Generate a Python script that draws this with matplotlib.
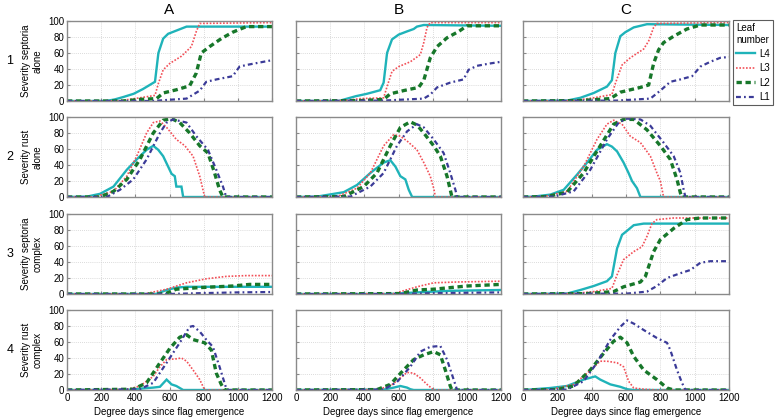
import matplotlib
matplotlib.use("Agg")
import matplotlib.pyplot as plt
from matplotlib.lines import Line2D

plt.rcParams['font.family'] = ['Liberation Sans', 'DejaVu Sans']

# column titles, row names, leaf labels
col_titles = ["A", "B", "C"]
row_numbers = ["1", "2", "3", "4"]
row_labels = ["Severity septoria\nalone", "Severity rust\nalone",
              "Severity septoria\ncomplex", "Severity rust\ncomplex"]
leaves = ["L4", "L3", "L2", "L1"]
x_ticks = [0, 200, 400, 600, 800, 1000, 1200]
y_ticks = [0, 20, 40, 60, 80, 100]

# ---- values: (degree days, severity) ----
# row 1 : septoria alone
sa_A_L4 = [(0, 0), (230, 0), (280, 2), (330, 5), (390, 9), (445, 15), (515, 24), (535, 60), (563, 78), (592, 84), (640, 88), (700, 93), (1200, 93)]
sa_A_L3 = [(0, 0), (300, 0), (330, 1), (427, 4), (515, 7), (535, 22), (563, 39), (602, 47), (670, 56), (728, 68), (757, 87), (777, 97), (1200, 98)]
sa_A_L2 = [(0, 0), (330, 0), (427, 2), (524, 3), (563, 10), (640, 14), (718, 19), (757, 35), (786, 60), (835, 68), (903, 78), (970, 86), (1050, 93), (1200, 93)]
sa_A_L1 = [(0, 0), (500, 0), (700, 3), (777, 13), (815, 24), (875, 27), (970, 31), (1010, 43), (1050, 45), (1200, 51)]

sa_B_L4 = [(0, 0), (250, 0), (300, 3), (350, 6), (415, 9), (493, 13.5), (513, 23), (533, 60), (562, 77), (601, 83), (650, 87), (689, 90), (708, 93), (748, 95), (1200, 94)]
sa_B_L3 = [(0, 0), (279, 0.5), (377, 3), (513, 4), (533, 18), (562, 37), (601, 43), (669, 49), (728, 58), (748, 73), (767, 92), (786, 98), (1200, 98)]
sa_B_L2 = [(0, 0), (377, 0.5), (513, 2), (552, 9), (630, 13), (718, 17), (748, 26), (786, 54), (826, 68), (884, 79), (953, 87), (1001, 94), (1200, 94)]
sa_B_L1 = [(0, 0), (513, 0.5), (748, 3), (786, 8), (826, 17), (903, 23), (981, 27), (1010, 39), (1060, 44), (1138, 47), (1200, 49)]

sa_C_L4 = [(0, 0), (256, 0.5), (334, 4), (412, 10), (489, 18), (518, 26), (538, 60), (567, 81), (596, 86), (645, 92), (684, 94), (722, 96), (1200, 95)]
sa_C_L3 = [(0, 0), (295, 0.5), (412, 4), (518, 8), (538, 22), (577, 45), (625, 54), (703, 65), (732, 75), (761, 92), (780, 97), (1200, 98)]
sa_C_L2 = [(0, 0), (334, 0.5), (509, 3), (567, 11), (684, 17), (732, 20), (761, 47), (790, 64), (819, 73), (878, 81), (955, 90), (1033, 95), (1200, 95)]
sa_C_L1 = [(0, 0), (548, 0.5), (742, 3), (800, 13), (858, 24), (917, 27), (985, 31), (1033, 43), (1091, 49), (1149, 54), (1200, 55)]

# row 2 : rust alone
ra_A_L4 = [(0, 0), (117, 0.5), (194, 4), (272, 13), (350, 34), (408, 47), (466, 59), (505, 64), (534, 59), (563, 51), (592, 38), (612, 29), (631, 26), (640, 13), (670, 13), (680, 0), (1200, 0)]
ra_A_L3 = [(0, 0), (155, 0), (272, 7), (350, 26), (408, 51), (466, 80), (505, 93), (544, 95), (583, 87), (640, 72), (690, 64), (738, 51), (777, 26), (806, 0), (1200, 0)]
ra_A_L2 = [(0, 0), (194, 0), (272, 7), (350, 22), (427, 47), (505, 80), (563, 96), (612, 98), (660, 93), (718, 80), (777, 64), (825, 55), (864, 30), (893, 9), (913, 0), (1200, 0)]
ra_A_L1 = [(0, 0), (233, 0), (310, 9), (388, 22), (466, 47), (544, 80), (583, 93), (621, 97), (700, 93), (757, 76), (825, 59), (874, 34), (913, 13), (932, 0), (1200, 0)]

ra_B_L4 = [(0, 0), (123, 0.5), (279, 6), (357, 15), (435, 30), (513, 43), (552, 46), (582, 38), (611, 26), (640, 22), (660, 9), (680, 0), (1200, 0)]
ra_B_L3 = [(0, 0), (240, 0.5), (357, 11), (435, 30), (513, 64), (572, 78), (611, 76), (650, 70), (708, 59), (748, 43), (786, 26), (806, 11), (816, 0), (1200, 0)]
ra_B_L2 = [(0, 0), (279, 0.5), (396, 13), (474, 30), (552, 64), (611, 87), (669, 94), (708, 90), (748, 80), (806, 64), (845, 51), (884, 26), (913, 0), (1200, 0)]
ra_B_L1 = [(0, 0), (318, 0.5), (435, 13), (513, 30), (591, 64), (650, 82), (708, 91), (748, 87), (806, 72), (864, 55), (903, 30), (933, 9), (943, 0), (1200, 0)]

ra_C_L4 = [(0, 0), (62, 0.5), (159, 3), (237, 9), (315, 28), (373, 43), (431, 59), (489, 66), (518, 63), (548, 57), (586, 43), (615, 30), (635, 20), (664, 11), (684, 0), (1200, 0)]
ra_C_L3 = [(0, 0), (120, 0.5), (256, 7), (353, 38), (431, 72), (489, 91), (528, 96), (577, 91), (625, 76), (684, 68), (742, 51), (780, 30), (800, 20), (819, 0), (1200, 0)]
ra_C_L2 = [(0, 0), (140, 0.5), (256, 6), (353, 30), (450, 64), (528, 91), (586, 97), (645, 97), (722, 84), (800, 64), (858, 47), (897, 22), (917, 5), (926, 0), (1200, 0)]
ra_C_L1 = [(0, 0), (179, 0.5), (295, 7), (392, 34), (489, 72), (557, 93), (606, 98), (684, 97), (742, 89), (819, 68), (878, 51), (917, 30), (936, 9), (946, 0), (1200, 0)]

# row 3 : septoria in complex
sc_A_L4 = [(0, 0), (520, 0), (583, 5), (640, 8), (700, 9), (1200, 9)]
sc_A_L3 = [(0, 0), (450, 0), (583, 6), (700, 14), (815, 19), (932, 22), (1050, 23), (1200, 23)]
sc_A_L2 = [(0, 0), (540, 0), (583, 1), (640, 6), (777, 8), (970, 10), (1068, 12), (1200, 12)]
sc_A_L1 = [(0, 0), (600, 0), (777, 1), (1000, 2), (1200, 2.5)]

sc_B_L4 = [(0, 0), (550, 0), (708, 2), (903, 4), (1200, 5)]
sc_B_L3 = [(0, 0), (572, 0.5), (708, 9), (806, 14), (942, 15), (1200, 16)]
sc_B_L2 = [(0, 0), (611, 0.5), (708, 5), (806, 6), (1001, 10), (1200, 12)]
sc_B_L1 = [(0, 0), (600, 0), (800, 1), (1200, 2)]

sc_C_L4 = [(0, 0), (256, 0.5), (334, 5), (412, 10), (489, 16), (518, 22), (548, 57), (577, 74), (606, 79), (645, 86), (703, 88), (1200, 88)]
sc_C_L3 = [(0, 0), (295, 0.5), (412, 3), (518, 7), (548, 24), (586, 43), (645, 53), (693, 59), (722, 72), (751, 88), (780, 93), (878, 95), (1200, 95)]
sc_C_L2 = [(0, 0), (373, 0.5), (528, 3), (586, 9), (684, 15), (713, 22), (761, 53), (800, 68), (878, 82), (955, 93), (1033, 95), (1200, 95)]
sc_C_L1 = [(0, 0), (606, 0.5), (722, 3), (780, 10), (839, 20), (917, 26), (975, 30), (1033, 39), (1091, 41), (1200, 41)]

# row 4 : rust in complex
rc_A_L4 = [(0, 0), (350, 0), (388, 1), (505, 3), (544, 4), (583, 13), (612, 7), (640, 5), (660, 2.5), (680, 0), (1200, 0)]
rc_A_L3 = [(0, 0), (350, 0.5), (427, 5), (505, 17), (544, 29), (583, 38), (640, 39), (670, 40), (700, 36), (738, 25), (777, 13), (806, 0), (1200, 0)]
rc_A_L2 = [(0, 0), (388, 1), (466, 9), (544, 34), (602, 52), (660, 66), (700, 69), (738, 63), (806, 59), (845, 50), (874, 21), (903, 7), (922, 0), (1200, 0)]
rc_A_L1 = [(0, 0), (427, 1), (505, 9), (583, 34), (660, 59), (718, 79), (738, 80), (777, 73), (815, 63), (854, 54), (893, 29), (932, 2), (942, 0), (1200, 0)]

rc_B_L4 = [(0, 0), (513, 0.5), (572, 3), (611, 5), (650, 3), (669, 1), (689, 0), (1200, 0)]
rc_B_L3 = [(0, 0), (474, 0.5), (552, 5), (611, 15), (650, 22), (689, 21), (728, 15), (767, 7), (806, 0), (1200, 0)]
rc_B_L2 = [(0, 0), (474, 0.5), (552, 7), (630, 25), (689, 38), (748, 44), (806, 48), (845, 44), (874, 25), (903, 5), (913, 0), (1200, 0)]
rc_B_L1 = [(0, 0), (513, 0.5), (591, 10), (669, 29), (728, 48), (786, 54), (845, 55), (884, 38), (923, 13), (943, 0), (1200, 0)]

rc_C_L4 = [(0, 0), (23, 0.3), (159, 2.5), (256, 5), (353, 13), (421, 17), (450, 13), (509, 7), (567, 4), (606, 1), (645, 0), (1200, 0)]
rc_C_L3 = [(0, 0), (159, 0.5), (295, 7), (373, 21), (450, 36), (489, 36), (548, 34), (586, 29), (615, 11), (645, 2.5), (703, 1), (780, 0), (1200, 0)]
rc_C_L2 = [(0, 0), (198, 0.5), (295, 5), (392, 25), (470, 46), (528, 61), (567, 66), (606, 59), (645, 42), (703, 25), (780, 13), (839, 2.5), (878, 0), (1200, 0)]
rc_C_L1 = [(0, 0), (256, 0.5), (353, 11), (431, 34), (509, 63), (567, 79), (606, 87), (645, 83), (703, 75), (780, 65), (839, 59), (858, 50), (897, 25), (926, 9), (946, 0), (1200, 0)]

panels = [
    [[sa_A_L4, sa_A_L3, sa_A_L2, sa_A_L1], [sa_B_L4, sa_B_L3, sa_B_L2, sa_B_L1], [sa_C_L4, sa_C_L3, sa_C_L2, sa_C_L1]],
    [[ra_A_L4, ra_A_L3, ra_A_L2, ra_A_L1], [ra_B_L4, ra_B_L3, ra_B_L2, ra_B_L1], [ra_C_L4, ra_C_L3, ra_C_L2, ra_C_L1]],
    [[sc_A_L4, sc_A_L3, sc_A_L2, sc_A_L1], [sc_B_L4, sc_B_L3, sc_B_L2, sc_B_L1], [sc_C_L4, sc_C_L3, sc_C_L2, sc_C_L1]],
    [[rc_A_L4, rc_A_L3, rc_A_L2, rc_A_L1], [rc_B_L4, rc_B_L3, rc_B_L2, rc_B_L1], [rc_C_L4, rc_C_L3, rc_C_L2, rc_C_L1]],
]

# line styles per leaf (L4, L3, L2, L1)
styles = [
    dict(color="#1fb3b9", lw=1.7, ls="-"),
    dict(color="#f25058", lw=1.2, ls=(0, (1, 1))),
    dict(color="#17772a", lw=2.4, ls=(0, (1.6, 1.1))),
    dict(color="#3b3b98", lw=1.6, ls=(0, (2.2, 1.4, 0.8, 1.4))),
]

W, H = 776, 420
fig = plt.figure(figsize=(W / 100, H / 100), dpi=100)

col_px = [(67, 272), (296, 501), (523, 729)]
row_px = [(21, 101), (117, 197), (214, 294), (310, 390)]

for r in range(4):
    for c in range(3):
        x0, x1 = col_px[c]
        t0, b0 = row_px[r]
        ax = fig.add_axes([x0 / W, 1 - b0 / H, (x1 - x0) / W, (b0 - t0) / H])
        for series, st in zip(panels[r][c], styles):
            xs = [p[0] for p in series]
            ys = [p[1] for p in series]
            ax.plot(xs, ys, solid_joinstyle="miter", **st)
        ax.set_xlim(0, 1200)
        ax.set_ylim(0, 100)
        ax.set_xticks(x_ticks)
        ax.set_yticks(y_ticks)
        ax.grid(True, color="#cfcfcf", ls=(0, (1, 1.5)), lw=0.6)
        ax.tick_params(length=2, direction="in", color="#888888", labelsize=7, pad=2)
        for s in ax.spines.values():
            s.set_color("#8a8a8a")
            s.set_linewidth(1.0)
        if c != 0:
            ax.set_yticklabels([])
        if r != 3:
            ax.set_xticklabels([])
        else:
            ax.set_xlabel("Degree days since flag emergence", fontsize=7, labelpad=3)
        if r == 0:
            ax.set_title(col_titles[c], fontsize=11, pad=5)
        if c == 0:
            ax.set_ylabel(row_labels[r], fontsize=7, labelpad=4)
            fig.text(10 / W, 1 - (t0 + b0) / 2 / H, row_numbers[r], fontsize=9,
                     ha="center", va="center")

handles = [Line2D([], [], **st) for st in styles]
leg = fig.legend(handles, leaves, title="Leaf\nnumber", loc="upper left",
                 bbox_to_anchor=(733 / W, 1 - 20 / H), fontsize=7, title_fontsize=7,
                 frameon=True, fancybox=False, handlelength=2.0, handletextpad=0.4,
                 borderpad=0.3, labelspacing=0.45, borderaxespad=0, alignment="left")
leg.get_frame().set_edgecolor("#333333")
leg.get_frame().set_linewidth(0.8)

fig.savefig("out.png", dpi=100)
